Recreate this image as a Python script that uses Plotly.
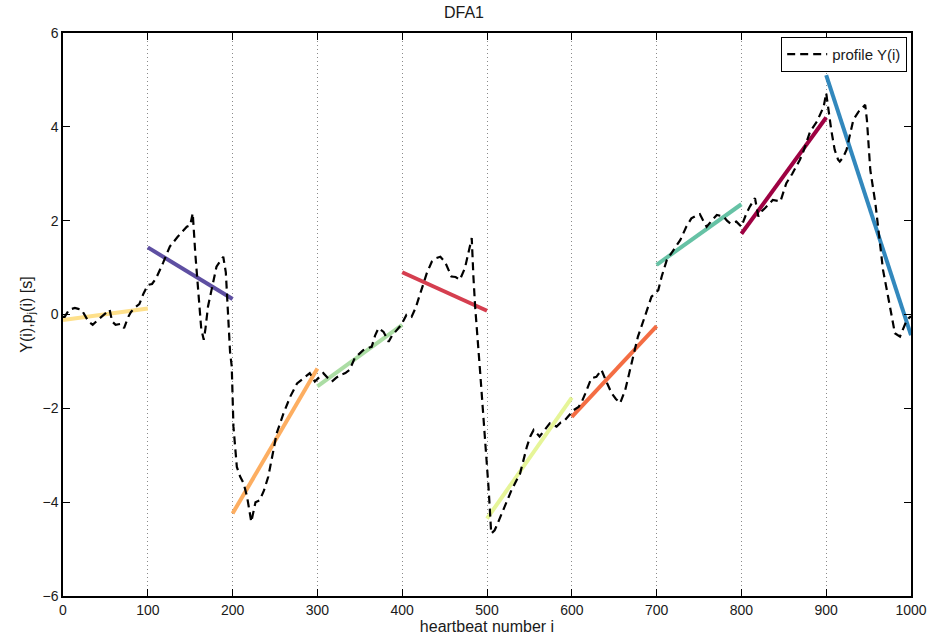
import plotly.graph_objects as go

# Profile Y(i)
profile_x = [0, 2, 7, 14, 18, 22, 30, 35, 42, 50, 55, 58, 62, 68, 72, 77, 80, 85, 90, 95,
             100, 105, 110, 118, 126, 135, 142, 146, 150, 153, 156, 160, 163, 166, 168, 171, 176, 181, 186, 189,
             192, 195, 197, 199, 201, 205, 209, 213, 217, 220, 222, 227, 232, 237, 242, 247, 252, 260, 268, 276,
             283, 291, 297, 302, 307, 312, 317, 322, 327, 333, 338, 344, 349, 354, 359, 364, 368, 372, 378, 384,
             388, 392, 399, 405, 411, 416, 421, 425, 429, 435, 440, 445, 449, 452, 458, 463, 468, 474, 479, 482,
             484, 486, 492, 498, 502, 505, 509, 511, 519, 524, 529, 539, 543, 547, 551, 555, 562, 568, 574, 582,
             587, 592, 597, 602, 608, 612, 616, 623, 629, 635, 640, 644, 647, 652, 657, 663, 667, 671, 678, 686,
             694, 702, 706, 712, 720, 728, 735, 741, 746, 751, 755, 759, 765, 771, 779, 783, 787, 794, 800, 806,
             810, 816, 820, 824, 828, 837, 846, 853, 860, 865, 869, 873, 877, 881, 889, 897, 900, 903, 906, 910,
             914, 916, 920, 924, 928, 932, 938, 942, 946, 948, 952, 958, 963, 967, 973, 977, 981, 987, 991, 995,
             999, 1000]
profile_y = [-0.05, -0.05, 0.10, 0.14, 0.12, 0.10, -0.15, -0.22, -0.10, 0.02, 0.10, -0.15, -0.22, -0.20, -0.29, -0.05, 0.05, 0.15, 0.22, 0.45,
             0.63, 0.65, 0.78, 1.10, 1.45, 1.65, 1.80, 1.87, 1.90, 2.16, 1.30, 0.40, -0.30, -0.54, -0.30, 0.17, 0.60, 1.02, 1.15, 1.23,
             0.90, 0.00, -0.80, -1.11, -2.39, -3.25, -3.46, -3.60, -3.88, -4.20, -4.42, -4.00, -3.96, -3.75, -3.46, -3.00, -2.53, -2.11, -1.75, -1.47,
             -1.36, -1.25, -1.43, -1.35, -1.25, -1.35, -1.43, -1.35, -1.29, -1.25, -1.18, -0.93, -0.85, -0.76, -0.72, -0.69, -0.45, -0.29, -0.37, -0.58,
             -0.45, -0.37, -0.22, -0.01, -0.05, 0.15, 0.45, 0.65, 0.88, 1.13, 1.20, 1.23, 1.15, 1.06, 0.81, 0.80, 0.74, 0.99, 1.38, 1.63,
             0.80, 0.17, -1.25, -2.68, -3.74, -4.67, -4.60, -4.52, -4.17, -3.95, -3.74, -3.39, -3.10, -2.82, -2.60, -2.46, -2.60, -2.45, -2.32, -2.39,
             -2.30, -2.25, -2.15, -2.04, -1.97, -1.85, -1.68, -1.36, -1.33, -1.18, -1.40, -1.55, -1.68, -1.80, -1.89, -1.61, -1.30, -1.04, -0.47, -0.05,
             0.38, 0.52, 0.81, 1.16, 1.38, 1.59, 1.87, 2.05, 2.10, 2.14, 2.00, 1.87, 2.00, 2.12, 2.09, 2.00, 1.94, 1.98, 1.87, 2.16,
             2.30, 2.48, 2.09, 2.20, 2.27, 2.44, 2.41, 2.80, 3.00, 3.15, 3.30, 3.47, 3.70, 3.90, 4.11, 4.43, 4.72, 4.30, 3.93, 3.51,
             3.30, 3.26, 3.35, 3.51, 3.80, 4.15, 4.32, 4.40, 4.47, 4.15, 3.08, 2.37, 1.52, 0.95, 0.38, 0.00, -0.40, -0.47, -0.30, -0.12,
             -0.05, -0.05]

# Local linear fits p_j(i) per window: start/end values
seg_start_x = [0, 100, 200, 300, 400, 500, 600, 700, 800, 900]
seg_end_x = [100, 200, 300, 400, 500, 600, 700, 800, 900, 1000]
seg_start_y = [-0.12, 1.43, -4.24, -1.53, 0.90, -4.35, -2.18, 1.06, 1.72, 5.10]
seg_end_y = [0.13, 0.33, -1.15, -0.22, 0.08, -1.77, -0.25, 2.35, 4.20, -0.44]
seg_colors = ["#fee08b", "#5e4fa2", "#fdae61", "#abdda4", "#d53e4f",
              "#e6f598", "#f46d43", "#66c2a5", "#9e0142", "#3288bd"]

x_ticks = [0, 100, 200, 300, 400, 500, 600, 700, 800, 900, 1000]
y_ticks = [-6, -4, -2, 0, 2, 4, 6]

fig = go.Figure()

for xs, xe, ys, ye, c in zip(seg_start_x, seg_end_x, seg_start_y, seg_end_y, seg_colors):
    fig.add_trace(go.Scatter(x=[xs, xe], y=[ys, ye], mode="lines",
                             line=dict(color=c, width=4), showlegend=False,
                             hoverinfo="skip"))

fig.add_trace(go.Scatter(x=profile_x, y=profile_y, mode="lines", name="profile Y(i)",
                         line=dict(color="black", width=2.2, dash="8px,5px")))

font_family = "Liberation Sans, Arial, Helvetica, sans-serif"

fig.update_layout(
    width=928, height=639,
    margin=dict(l=63, r=17, t=33, b=43, autoexpand=False),
    paper_bgcolor="white", plot_bgcolor="white",
    font=dict(family=font_family, size=14, color="#1a1a1a"),
    title=dict(text="DFA1", x=0.5, xanchor="center", y=0.99, yanchor="top",
               font=dict(size=16, color="#1a1a1a")),
    showlegend=True,
    legend=dict(x=0.9955, y=0.993, xanchor="right", yanchor="top",
                bordercolor="black", borderwidth=1, bgcolor="white",
                font=dict(size=15), tracegroupgap=0, itemwidth=40),
    xaxis=dict(range=[0, 1000], tickvals=x_ticks, ticktext=[str(v) for v in x_ticks],
               automargin=False,
               showgrid=True, gridcolor="#8a8a8a", griddash="1px,3px", gridwidth=1,
               zeroline=False, showline=True, linecolor="black", linewidth=1.5,
               mirror="ticks", ticks="inside", ticklen=7, tickcolor="black",
               tickfont=dict(size=14),
               title=dict(text="heartbeat number i", standoff=2, font=dict(size=16))),
    yaxis=dict(range=[-6, 6], tickvals=y_ticks, ticktext=[str(v).replace("-", "\u2212") for v in y_ticks],
               automargin=False,
               showgrid=False, zeroline=False, showline=True, linecolor="black", linewidth=1.5,
               mirror="ticks", ticks="inside", ticklen=7, tickcolor="black",
               tickfont=dict(size=14),
               title=dict(text="Y(i),p<sub>j</sub>(i) [s]", standoff=6, font=dict(size=16))),
)

fig.write_html("out.html")
